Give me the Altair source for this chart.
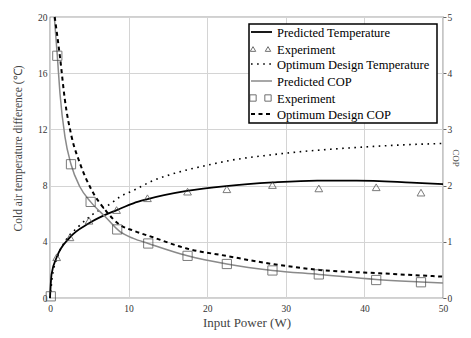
import altair as alt
import pandas as pd

FONT = "Liberation Serif, Times New Roman, serif"

# Predicted temperature (solid black), left axis
pt_x = [0, 0.2, 0.85, 2.5, 4.9, 6.8, 8.5, 10.6, 12.3, 17.4, 22.4, 28.4, 34, 39, 46, 50]
pt_y = [0, 1.7, 2.9, 4.3, 5.3, 5.86, 6.26, 6.74, 7.02, 7.62, 7.97, 8.23, 8.36, 8.36, 8.21, 8.1]

# Optimum design temperature (dotted), left axis
ot_x = [0, 0.3, 1, 2, 3.6, 5.3, 7.8, 8.9, 10.6, 13.1, 16, 20, 23, 28, 32, 36, 40, 45, 50]
ot_y = [0, 1.5, 3.0, 4.1, 5.07, 5.9, 6.75, 7.2, 7.65, 8.35, 8.9, 9.45, 9.8, 10.18, 10.42, 10.6, 10.75, 10.9, 11.0]

# Experiment temperature (triangles)
et_x = [0.85, 2.54, 4.96, 8.47, 12.4, 17.5, 22.5, 28.3, 34.2, 41.5, 47.2]
et_y = [2.9, 4.32, 5.5, 6.26, 7.1, 7.57, 7.74, 8.04, 7.8, 7.88, 7.5]

# Predicted COP (grey solid), right axis
pc_x = [0.55, 0.93, 1.27, 1.9, 2.67, 3.8, 5.17, 7.0, 8.9, 10.6, 12.5, 17.5, 22.5, 28.3, 34.2, 41.5, 47.2, 50]
pc_y = [5.0, 4.31, 3.64, 2.87, 2.38, 1.98, 1.71, 1.45, 1.18, 1.06, 0.97, 0.75, 0.605, 0.49, 0.42, 0.33, 0.285, 0.265]

# Optimum design COP (dashed), right axis
oc_x = [0.6, 1.27, 1.9, 2.75, 3.8, 5.3, 7.0, 8.9, 10.6, 13.1, 17.4, 22.4, 28.5, 34.3, 41.9, 50]
oc_y = [5.0, 4.29, 3.52, 2.87, 2.4, 1.92, 1.57, 1.3, 1.2, 1.08, 0.88, 0.75, 0.6, 0.5, 0.44, 0.38]

# Experiment COP (squares)
ec_x = [0.1, 0.93, 2.67, 5.17, 8.55, 12.5, 17.5, 22.5, 28.3, 34.2, 41.5, 47.2]
ec_y = [0.03, 4.31, 2.38, 1.71, 1.22, 0.97, 0.75, 0.605, 0.49, 0.42, 0.32, 0.28]

legend_labels = ["Predicted Temperature", "Experiment", "Optimum Design Temperature",
                 "Predicted COP", "Experiment", "Optimum Design COP"]

x_ticks = [0, 10, 20, 30, 40, 50]
t_ticks = [0, 4, 8, 12, 16, 20]
c_ticks = [0, 1, 2, 3, 4, 5]

xscale = alt.Scale(domain=[0, 50], nice=False)
tscale = alt.Scale(domain=[0, 20], nice=False)
cscale = alt.Scale(domain=[0, 5], nice=False)

xaxis = alt.Axis(values=x_ticks, title="Input Power (W)", grid=True, gridColor="#d4d4d4",
                 tickSize=0, labelPadding=5, labelFlush=False, labelOverlap=False,
                 domain=False, titlePadding=4, titleFontSize=13)
taxis = alt.Axis(values=t_ticks, title="Cold air temperature difference (℃)",
                 grid=True, gridColor="#d4d4d4", tickSize=0, labelPadding=3, labelFlush=False,
                 labelOverlap=False, domain=False, titleX=-27, titleY=131, titleFontSize=11.5)
caxis = alt.Axis(values=c_ticks, title="COP", orient="right", grid=False, tickSize=3,
                 labelPadding=1, labelFlush=False, labelOverlap=False, domain=False,
                 titleX=7, titleAngle=90, titleFontSize=9)


def df(xs, ys):
    return pd.DataFrame({"x": xs, "y": ys})


X = alt.X("x:Q", scale=xscale, axis=xaxis)
YT = alt.Y("y:Q", scale=tscale, axis=taxis)
YC = alt.Y("y:Q", scale=cscale, axis=caxis)

pt = alt.Chart(df(pt_x, pt_y)).mark_line(color="black", strokeWidth=1.8, interpolate="monotone").encode(x=X, y=YT)
ot = alt.Chart(df(ot_x, ot_y)).mark_line(color="black", strokeWidth=1.6, strokeDash=[1.6, 4.5],
                                         interpolate="monotone").encode(x=X, y=YT)
et = alt.Chart(df(et_x, et_y)).mark_point(shape="triangle-up", size=60, color="#444", strokeWidth=1,
                                          filled=False).encode(x=X, y=YT)
left = alt.layer(pt, ot, et)

pc = alt.Chart(df(pc_x, pc_y)).mark_line(color="#8a8a8a", strokeWidth=1.5, interpolate="monotone").encode(x=X, y=YC)
oc = alt.Chart(df(oc_x, oc_y)).mark_line(color="black", strokeWidth=2, strokeDash=[4, 3.5],
                                         interpolate="monotone").encode(x=X, y=YC)
ec = alt.Chart(df(ec_x, ec_y)).mark_point(shape="square", size=85, color="#444", strokeWidth=1,
                                          filled=False).encode(x=X, y=YC)
right = alt.layer(pc, oc, ec)

# Manual legend
one = pd.DataFrame({"a": [0]})
LX0, LX1, LY0, LY1 = 199, 387, 7, 106
row_y = [15, 32, 47, 64, 81, 97]
leg = [alt.Chart(one).mark_rect(fill="white", stroke="black", strokeWidth=1.5).encode(
    x=alt.value(LX0), x2=alt.value(LX1), y=alt.value(LY0), y2=alt.value(LY1))]
line_styles = {0: dict(color="black", strokeWidth=1.8),
               2: dict(color="black", strokeWidth=1.6, strokeDash=[1.6, 4.5]),
               3: dict(color="#8a8a8a", strokeWidth=1.5),
               5: dict(color="black", strokeWidth=2, strokeDash=[4, 3.5])}
for i, st in line_styles.items():
    leg.append(alt.Chart(one).mark_rule(**st).encode(
        x=alt.value(LX0 + 2), x2=alt.value(LX0 + 23), y=alt.value(row_y[i])))
for i, shp, sz in [(1, "triangle-up", 30), (4, "square", 40)]:
    for dx in [4, 19]:
        leg.append(alt.Chart(one).mark_point(shape=shp, size=sz, color="#333", filled=False,
                                             strokeWidth=1).encode(
            x=alt.value(LX0 + dx), y=alt.value(row_y[i])))
for i, lab in enumerate(legend_labels):
    leg.append(alt.Chart(one).mark_text(text=lab, align="left", baseline="middle", font=FONT,
                                        fontSize=12.5, color="black").encode(
        x=alt.value(LX0 + 28), y=alt.value(row_y[i] + 1)))

chart = alt.layer(left, right, *leg).resolve_scale(y="independent").properties(
    width=393, height=281,
    autosize=alt.AutoSizeParams(type="none"),
    padding={"left": 42, "top": 9, "right": 20, "bottom": 32},
).configure_view(stroke="#444", strokeWidth=1.2).configure_axis(
    labelFont=FONT, titleFont=FONT, labelFontSize=9.5, titleFontWeight="normal",
    labelColor="#333", titleColor="#444", tickColor="#666",
)

chart.save("out.html", embed_options={"renderer": "svg", "actions": False})
